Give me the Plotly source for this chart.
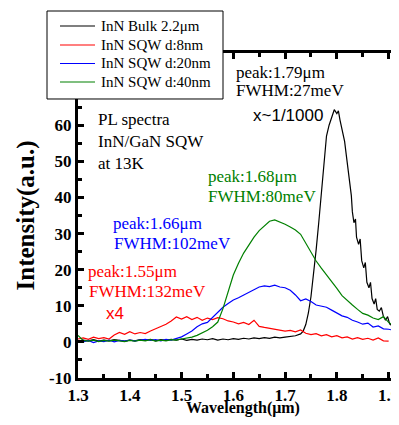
import plotly.graph_objects as go

# ---------------- data ----------------
x_common = [round(1.30 + 0.01 * i, 2) for i in range(63)]  # 1.30 .. 1.92

red_x = x_common[:61]  # 1.30 .. 1.90
red_y = [0.8, 1.1, 0.7, 1.3, 0.9, 1.2, 0.8, 1.9, 2.6, 2.1,
         2.8, 2.2, 2.6, 2.3, 3.0, 3.6, 4.3, 4.9, 5.8, 6.9,
         6.3, 7.0, 6.2, 6.8, 6.0, 6.6, 6.2, 6.7, 6.4, 5.8,
         5.5, 5.0, 5.4, 4.8, 6.0, 4.3, 4.0, 3.8, 3.6, 3.4,
         3.0, 3.2, 2.8, 3.3, 2.4, 2.0, 2.3, 1.7, 2.0, 1.4,
         1.7, 1.1, 1.4, 0.8, 1.2, 0.7, 1.0, 0.5, 1.1, 0.3,
         0.2]

blue_x = x_common
blue_y = [0.3, 0.0, 0.4, -0.2, 0.3, 0.1, 0.5, 0.0, 0.4, 0.2,
          0.5, 0.3, 0.5, 0.7, 0.4, 0.6, 0.3, 0.7, 0.5, 1.0,
          1.4, 2.2, 3.0, 4.2, 5.0, 5.4, 6.8, 8.2, 9.6, 10.6,
          11.6, 12.2, 13.0, 13.8, 14.6, 15.2, 15.5, 15.3, 15.7, 15.2,
          15.0, 14.3, 13.0, 11.4, 11.9, 11.2, 10.2, 9.9, 9.6, 8.8,
          7.9, 7.2, 6.8, 6.0, 5.5, 4.9, 5.2, 4.1, 4.4, 3.6,
          3.5, 3.1, 2.9]

green_x = x_common
green_y = [1.8, 0.4, 0.2, 0.5, 0.1, 0.4, 0.2, 0.5, 0.3, 0.1,
           0.4, 0.2, 0.5, 0.3, 0.6, 0.2, 0.5, 0.3, 0.6, 0.5,
           0.8, 1.0, 1.3, 1.8, 2.4, 3.2, 4.2, 5.5, 9.2, 14.0,
           18.5, 21.8, 24.6, 26.8, 29.0, 30.8, 32.2, 33.4, 33.8, 33.3,
           32.6, 31.8, 31.0, 29.8, 27.3, 24.8, 22.4, 20.4, 18.6, 16.8,
           14.8, 12.8, 11.4, 10.2, 9.0, 7.9, 7.4, 6.6, 6.2, 7.0,
           5.4, 4.6, 3.6]

black_x = x_common[:44] + [1.735, 1.74, 1.745, 1.75, 1.755, 1.76, 1.765, 1.77,
                           1.775, 1.78, 1.785, 1.79, 1.795, 1.80, 1.803, 1.806,
                           1.81, 1.815, 1.818, 1.822, 1.825, 1.828, 1.83, 1.833,
                           1.836, 1.838, 1.842, 1.845, 1.848, 1.852, 1.855, 1.858,
                           1.862, 1.865, 1.868, 1.872, 1.875, 1.878, 1.882, 1.886,
                           1.89, 1.894, 1.898, 1.902, 1.906, 1.91, 1.914, 1.918, 1.92]
black_y = [0.2, 0.5, 0.3, 0.6, 0.2, 0.5, 0.3, 0.6, 0.4, 0.2,
           0.5, 0.3, 0.6, 0.4, 0.7, 0.3, 0.6, 0.4, 0.7, 0.5,
           0.8, 0.4, 0.7, 0.5, 0.8, 0.6, 0.9, 0.5, 0.8, 0.6,
           0.9, 0.7, 1.0, 0.8, 1.1, 0.9, 1.2, 1.0, 1.3, 1.1,
           1.3, 1.5, 1.7, 2.2,
           3.0, 4.8, 8.0, 12.5, 18.5, 25.5, 33.0, 41.0,
           51.0, 57.0, 60.0, 62.5, 64.3, 63.2, 64.0, 61.5,
           59.0, 55.5, 52.0, 47.0, 43.0, 40.5, 36.0, 33.0,
           34.0, 29.0, 27.0, 28.5, 22.5, 20.5, 22.0, 16.5,
           15.0, 16.5, 12.0, 10.5, 12.0, 9.0, 8.5, 9.5,
           7.0, 6.0, 7.0, 5.0, 4.5, 5.0, 3.8, 4.2, 3.6]

series_names = ["InN Bulk 2.2\u03bcm", "InN SQW d:8nm", "InN SQW d:20nm", "InN SQW d:40nm"]
series_colors = ["#000000", "#ff0000", "#0000ff", "#008000"]

x_ticks = [1.3, 1.4, 1.5, 1.6, 1.7, 1.8, 1.9]
y_ticks = [-10, 0, 10, 20, 30, 40, 50, 60, 70, 80]

x_title = "Wavelength(\u03bcm)"
y_title = "Intensity(a.u.)"

SERIF = "Liberation Serif, Times New Roman, serif"
SANS = "Liberation Sans, Arial, sans-serif"

fig = go.Figure()
for xs, ys, nm, col in [(black_x, black_y, series_names[0], series_colors[0]),
                        (red_x, red_y, series_names[1], series_colors[1]),
                        (blue_x, blue_y, series_names[2], series_colors[2]),
                        (green_x, green_y, series_names[3], series_colors[3])]:
    fig.add_trace(go.Scatter(x=xs, y=ys, mode="lines", name=nm, showlegend=False,
                             line=dict(color=col, width=1.2)))

# ---------------- text annotations ----------------
notes = [
    ("PL spectra", 1.3346, 61.45, "#000000", SERIF),
    ("InN/GaN SQW", 1.3346, 55.4, "#000000", SERIF),
    ("at 13K", 1.3346, 49.45, "#000000", SERIF),
    ("peak:1.79\u03bcm", 1.6015, 74.5, "#000000", SERIF),
    ("FWHM:27meV", 1.6015, 69.75, "#000000", SERIF),
    ("x~1/1000", 1.6345, 62.8, "#000000", SANS),
    ("peak:1.68\u03bcm", 1.5466, 45.75, "#008000", SERIF),
    ("FWHM:80meV", 1.5466, 40.2, "#008000", SERIF),
    ("peak:1.66\u03bcm", 1.3632, 32.85, "#0000ff", SERIF),
    ("FWHM:102meV", 1.3664, 27.3, "#0000ff", SERIF),
    ("peak:1.55\u03bcm", 1.3149, 19.45, "#ff0000", SERIF),
    ("FWHM:132meV", 1.3168, 13.9, "#ff0000", SERIF),
    ("x4", 1.3504, 7.9, "#ff0000", SANS),
]
for txt, ax_, ay_, col, fam in notes:
    fig.add_annotation(x=ax_, y=ay_, xref="x", yref="y", text=txt, showarrow=False,
                       xanchor="left", yanchor="middle",
                       font=dict(family=fam, size=17, color=col))

# ---------------- legend box (drawn over the axes, as in the reference) ----------------
# plot area is 313 px wide (x 70..383 of the figure), 325 px tall (y 45..370)
PW = 313.0
def px(fx):
    return (fx - 70.0) / PW

fig.add_shape(type="rect", xref="paper", yref="paper",
              x0=px(39), x1=px(215), y0=0.8585, y1=1.1292,
              fillcolor="white", line=dict(color="black", width=1), layer="above")
row_y = [1.0831, 1.0246, 0.9677, 0.9108]
for nm, col, ry in zip(series_names, series_colors, row_y):
    fig.add_shape(type="line", xref="paper", yref="paper",
                  x0=px(52), x1=px(87), y0=ry, y1=ry,
                  line=dict(color=col, width=1.2), layer="above")
    fig.add_annotation(x=px(91), y=ry, xref="paper", yref="paper", text=nm,
                       showarrow=False, xanchor="left", yanchor="middle",
                       font=dict(family=SERIF, size=15, color="black"))

# x-axis title placed just below the tick labels
fig.add_annotation(x=px(234.5), y=-0.1262, xref="paper", yref="paper", text=x_title,
                   showarrow=False, xanchor="center", yanchor="bottom",
                   font=dict(family=SERIF, size=16, color="black", weight="bold"))

fig.update_layout(
    width=383, height=409,
    margin=dict(l=70, r=0, t=45, b=39),
    paper_bgcolor="white", plot_bgcolor="white",
    showlegend=False,
    font=dict(family=SERIF, color="black"),
)
fig.update_xaxes(
    range=[1.3, 1.9046], tickmode="array", tickvals=x_ticks,
    ticktext=[f"{v:.1f}" for v in x_ticks], ticklabeloverflow="allow",
    automargin=False,
    ticks="inside", ticklen=6, tickwidth=2.5, tickcolor="black",
    minor=dict(dtick=0.05, tick0=1.3, ticks="inside", ticklen=4, tickwidth=2.5, tickcolor="black"),
    showline=True, linewidth=3, linecolor="black", mirror="ticks",
    showgrid=False, zeroline=False,
    tickfont=dict(family=SERIF, size=17, color="black", weight="bold"),
)
fig.update_yaxes(
    range=[-10, 80], tickmode="array", tickvals=y_ticks,
    ticktext=[str(v) for v in y_ticks],
    automargin=False,
    ticks="inside", ticklen=6, tickwidth=2.5, tickcolor="black",
    minor=dict(dtick=5, tick0=-10, ticks="inside", ticklen=4, tickwidth=2.5, tickcolor="black"),
    showline=True, linewidth=3, linecolor="black", mirror=False,
    showgrid=False, zeroline=False,
    tickfont=dict(family=SERIF, size=17, color="black", weight="bold"),
    title=dict(text=y_title, font=dict(family=SERIF, size=25, color="black", weight="bold"), standoff=8),
)

fig.write_html("out.html")
